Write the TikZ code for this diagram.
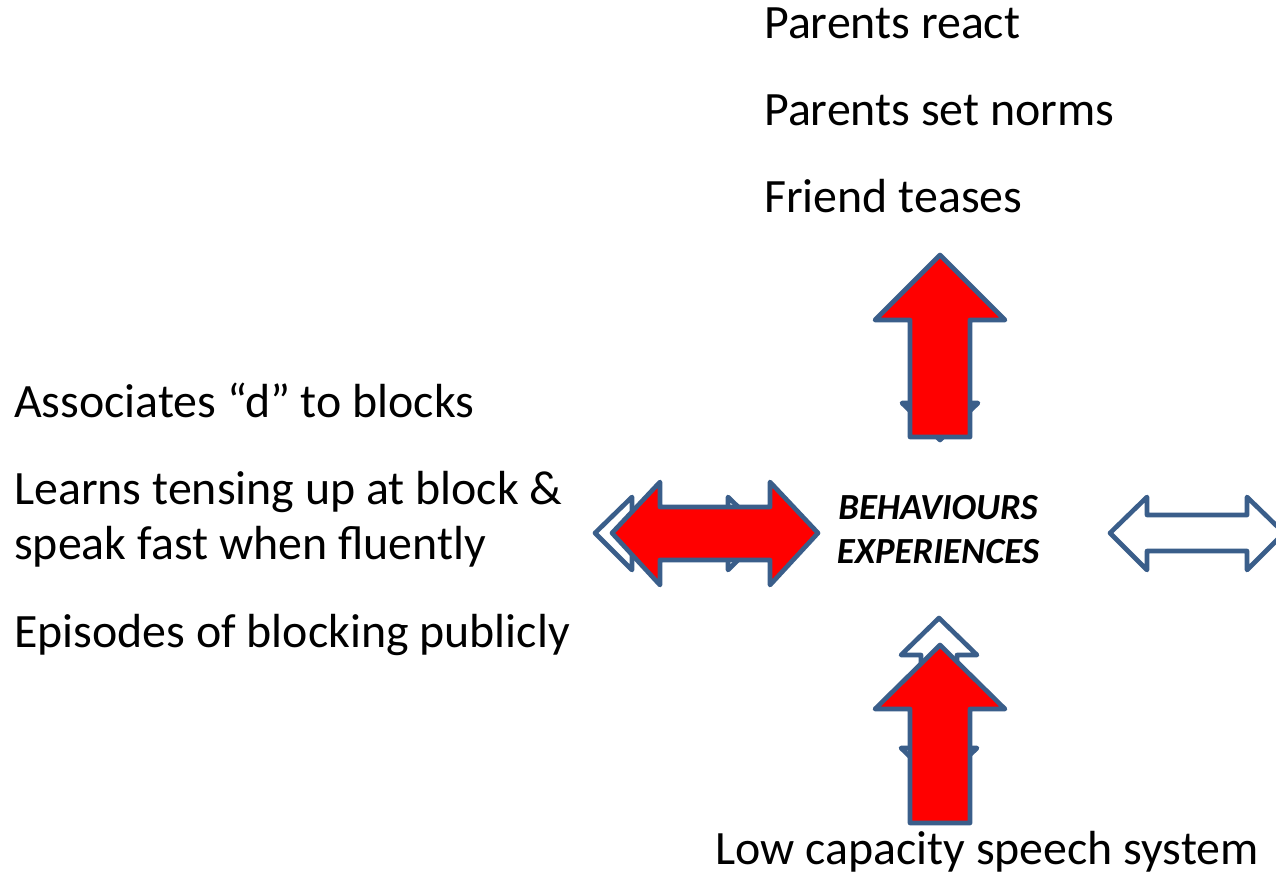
\documentclass[tikz,border=0pt]{standalone}
\usepackage{fontspec}
\setmainfont{Carlito}
\definecolor{edgeblue}{RGB}{58,94,138}
\definecolor{arrowred}{RGB}{255,0,0}
\begin{document}
\begin{tikzpicture}[x=0.75pt,y=-0.75pt,
  blockarrow/.style={draw=edgeblue,line width=3.5pt,line join=round},
  redarrow/.style={blockarrow,fill=arrowred},
  whitearrow/.style={blockarrow,fill=white},
  label/.style={inner sep=0pt,font=\fontsize{35.9}{43}\selectfont},
  centrelabel/.style={inner sep=0pt,align=center,
    font=\fontsize{27.6}{33}\selectfont\bfseries\itshape}]
\useasboundingbox (0,0) rectangle (1276,876);

% --- upward pair above the centre ---
\draw[whitearrow] (940,266) -- (978,303) -- (958,303) -- (958,403) -- (978,403)
  -- (940,440) -- (902,403) -- (922,403) -- (922,303) -- (902,303) -- cycle;
\draw[redarrow] (910,437) -- (910,320) -- (875,320) -- (940,255) -- (1005,320)
  -- (970,320) -- (970,437) -- cycle;

% --- upward pair below the centre ---
\draw[whitearrow] (939,618) -- (977,655) -- (957,655) -- (957,748) -- (977,748)
  -- (939,785) -- (901,748) -- (921,748) -- (921,655) -- (901,655) -- cycle;
\draw[redarrow] (910,823) -- (910,709) -- (875,709) -- (940,645) -- (1005,709)
  -- (970,709) -- (970,823) -- cycle;

% --- horizontal pair on the left ---
\draw[whitearrow] (595,533) -- (632,497) -- (632,515) -- (728,515) -- (728,497)
  -- (765,533) -- (728,570) -- (728,551) -- (632,551) -- (632,570) -- cycle;
\draw[redarrow] (612,533) -- (660,482) -- (660,507) -- (770,507) -- (770,482)
  -- (818,533) -- (770,585) -- (770,560) -- (660,560) -- (660,585) -- cycle;

% --- plain double arrow on the right ---
\draw[whitearrow] (1110,533) -- (1147,497) -- (1147,515) -- (1247,515) -- (1247,497)
  -- (1284,533) -- (1247,570) -- (1247,551) -- (1147,551) -- (1147,570) -- cycle;

% --- texts ---
\node[label,anchor=base west] (react) at (764,38) {Parents react};
\node[label,anchor=base west] (norms) at (764,125) {Parents set norms};
\node[label,anchor=base west] (tease) at (764,212) {Friend teases};

\node[label,anchor=base west] (assoc) at (14,417) {Associates “d” to blocks};
\node[label,anchor=base west] (learn) at (14,504) {Learns tensing up at block \&};
\node[label,anchor=base west] (speak) at (14,559) {speak fast when fluently};
\node[label,anchor=base west] (episode) at (14,647) {Episodes of blocking publicly};

\node[label,anchor=base west] (capacity) at (715,864) {Low capacity speech system};

\node[centrelabel] (centre) at (938,530) {BEHAVIOURS\\EXPERIENCES};
\end{tikzpicture}
\end{document}
